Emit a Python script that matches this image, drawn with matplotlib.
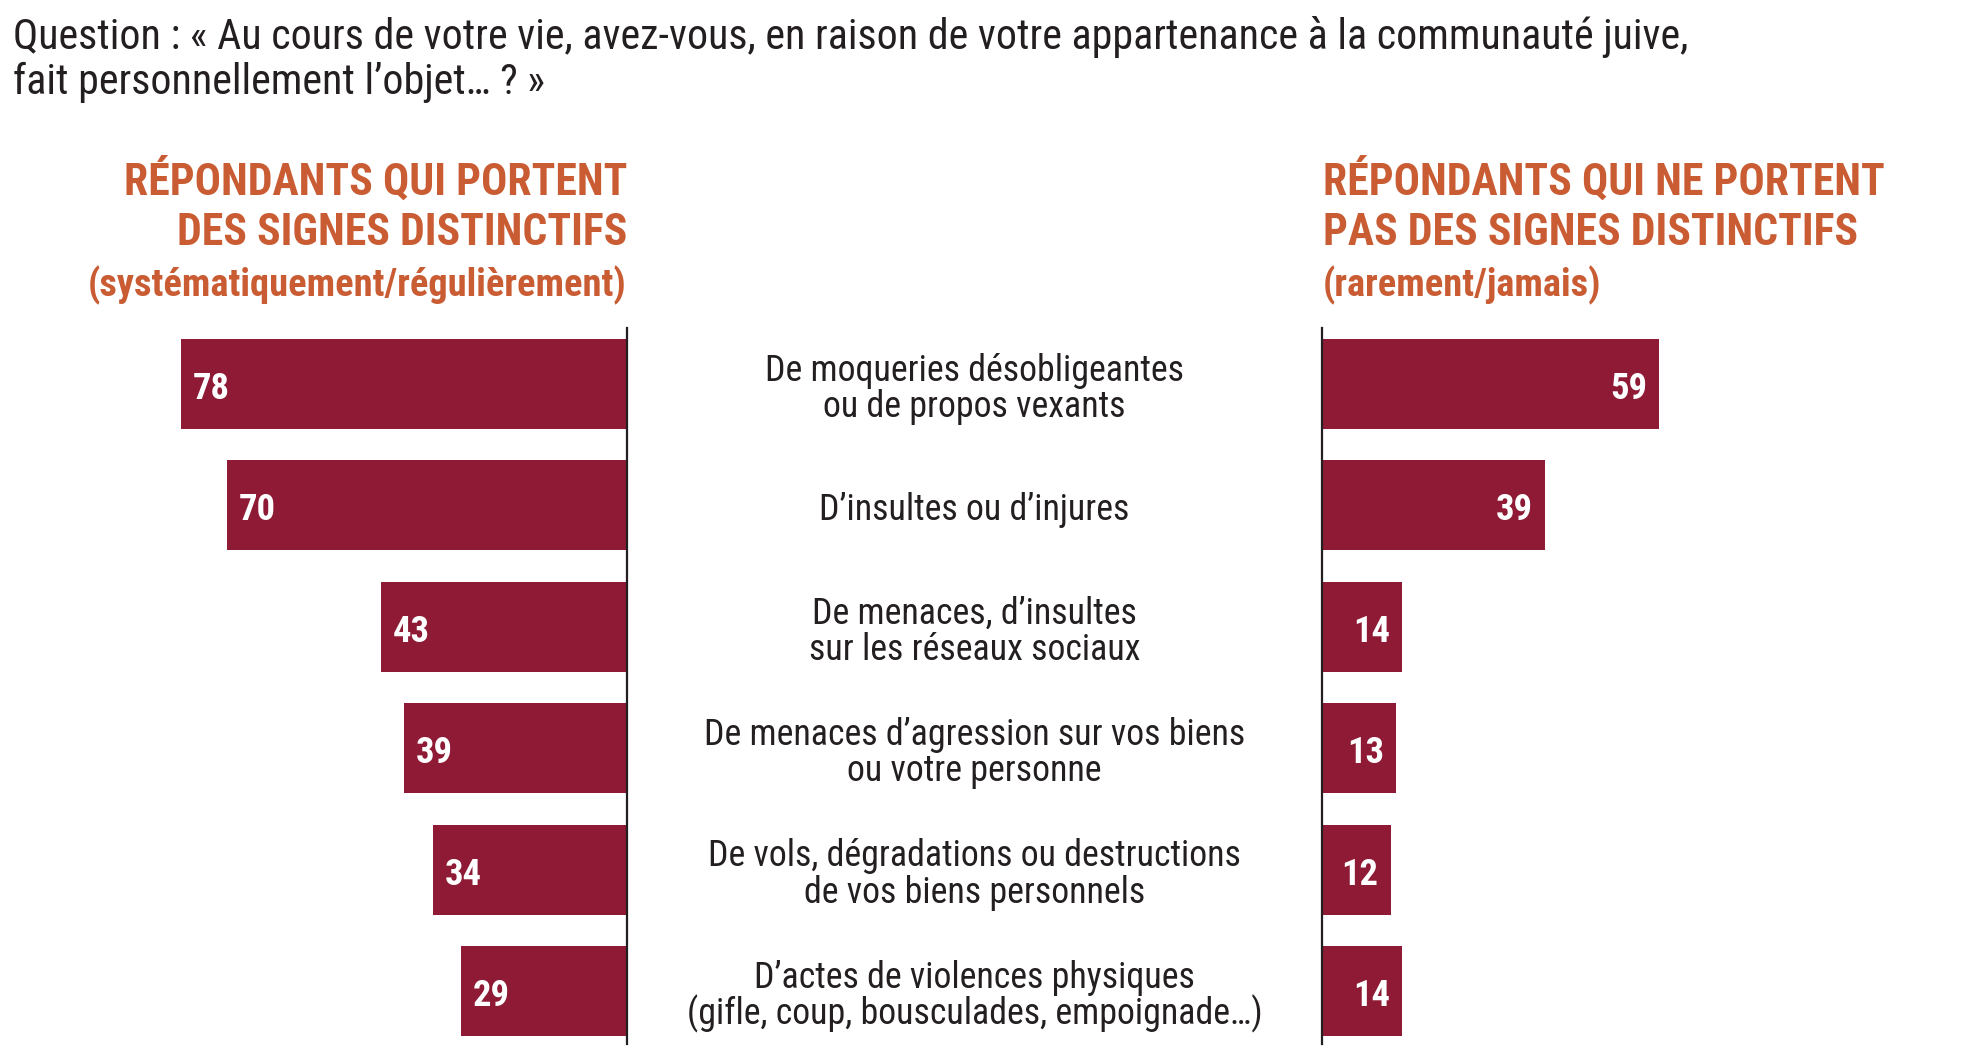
import matplotlib
matplotlib.use("Agg")
import matplotlib.pyplot as plt
import matplotlib.transforms as mtransforms
from matplotlib import font_manager as fm

# ---- data ----
categories = [
    "De moqueries désobligeantes\nou de propos vexants",
    "D’insultes ou d’injures",
    "De menaces, d’insultes\nsur les réseaux sociaux",
    "De menaces d’agression sur vos biens\nou votre personne",
    "De vols, dégradations ou destructions\nde vos biens personnels",
    "D’actes de violences physiques\n(gifle, coup, bousculades, empoignade…)",
]
with_signs = [78, 70, 43, 39, 34, 29]
without_signs = [59, 39, 14, 13, 12, 14]

title_lines = [
    "Question : « Au cours de votre vie, avez-vous, en raison de votre appartenance à la communauté juive,",
    "fait personnellement l’objet… ? »",
]
left_header = ["RÉPONDANTS QUI PORTENT", "DES SIGNES DISTINCTIFS", "(systématiquement/régulièrement)"]
right_header = ["RÉPONDANTS QUI NE PORTENT", "PAS DES SIGNES DISTINCTIFS", "(rarement/jamais)"]

# ---- style ----
names = {f.name for f in fm.fontManager.ttflist}
FONT = ["Roboto Condensed", "DejaVu Sans"] if "Roboto Condensed" in names else ["DejaVu Sans"]
BAR = "#8E1A35"
ORANGE = "#C95C33"
DARK = "#231F20"

W, H = 1962, 1064
fig = plt.figure(figsize=(W / 100, H / 100), dpi=100)
fig.patch.set_facecolor("white")
renderer = fig.canvas.get_renderer()


def fx(px):
    return px / W


def fy(py):
    return 1 - py / H


def fit_size(text, target_px, weight="normal"):
    t = fig.text(0, 0, text, fontsize=20, fontweight=weight, family=FONT)
    w = t.get_window_extent(renderer).width
    t.remove()
    return 20 * target_px / w


ax_top, ax_bot = 328, 1044
axL = fig.add_axes([0, fy(ax_bot), fx(627), (ax_bot - ax_top) / H])
axR = fig.add_axes([fx(1322), fy(ax_bot), 1 - fx(1322), (ax_bot - ax_top) / H])

pxu = 5.72  # pixels per percentage point
n = len(categories)
ylo, yhi = -0.46, n - 1 + 0.436
ypos = list(range(n))

axL.barh(ypos, with_signs, height=0.74, color=BAR)
axL.set_xlim(627 / pxu, 0)
axL.set_ylim(yhi, ylo)
axR.barh(ypos, without_signs, height=0.74, color=BAR)
axR.set_xlim(0, 640 / pxu)
axR.set_ylim(yhi, ylo)

for ax, side in ((axL, "right"), (axR, "left")):
    ax.set_facecolor("none")
    for s in ax.spines.values():
        s.set_visible(False)
    ax.spines[side].set_visible(True)
    ax.spines[side].set_linewidth(1.6)
    ax.spines[side].set_color(DARK)
    ax.set_xticks([])
    ax.set_yticks([])

# value labels
val_fs = fit_size("78", 37, "bold")
offL = mtransforms.offset_copy(axL.transData, fig=fig, x=12, y=-15, units="dots")
for i, v in enumerate(with_signs):
    axL.text(v, i, f"{v}", transform=offL, ha="left", va="baseline",
             color="white", fontsize=val_fs, fontweight="bold", family=FONT)
offR = mtransforms.offset_copy(axR.transData, fig=fig, x=-12, y=-15, units="dots")
for i, v in enumerate(without_signs):
    axR.text(v, i, f"{v}", transform=offR, ha="right", va="baseline",
             color="white", fontsize=val_fs, fontweight="bold", family=FONT)

# category labels in the middle
cat_fs = fit_size("De moqueries désobligeantes", 419)
blend = mtransforms.blended_transform_factory(fig.transFigure, axL.transData)
for i, cat in enumerate(categories):
    lines = cat.split("\n")
    k = len(lines)
    for j, line in enumerate(lines):
        off = 15 + (j - (k - 1) / 2) * 36.5
        tr = mtransforms.offset_copy(blend, fig=fig, x=0, y=-off, units="dots")
        fig.text(fx(974.5), i, line, transform=tr, ha="center", va="baseline",
                 color=DARK, fontsize=cat_fs, family=FONT)

# title
title_fs = fit_size(title_lines[0], 1670)
for j, line in enumerate(title_lines):
    fig.text(fx(13), fy(49 + 45 * j), line, ha="left", va="baseline",
             color=DARK, fontsize=title_fs, family=FONT)

# headers
hdr_fs = fit_size(left_header[0], 504, "bold")
sub_fs = fit_size(left_header[2], 535, "bold")
hdr_y = [195, 245, 296]
for j, line in enumerate(left_header):
    fig.text(fx(627), fy(hdr_y[j]), line, ha="right", va="baseline", color=ORANGE,
             fontsize=hdr_fs if j < 2 else sub_fs, fontweight="bold", family=FONT)
for j, line in enumerate(right_header):
    fig.text(fx(1323), fy(hdr_y[j]), line, ha="left", va="baseline", color=ORANGE,
             fontsize=hdr_fs if j < 2 else sub_fs, fontweight="bold", family=FONT)

fig.savefig("out.png", dpi=100, facecolor="white")
